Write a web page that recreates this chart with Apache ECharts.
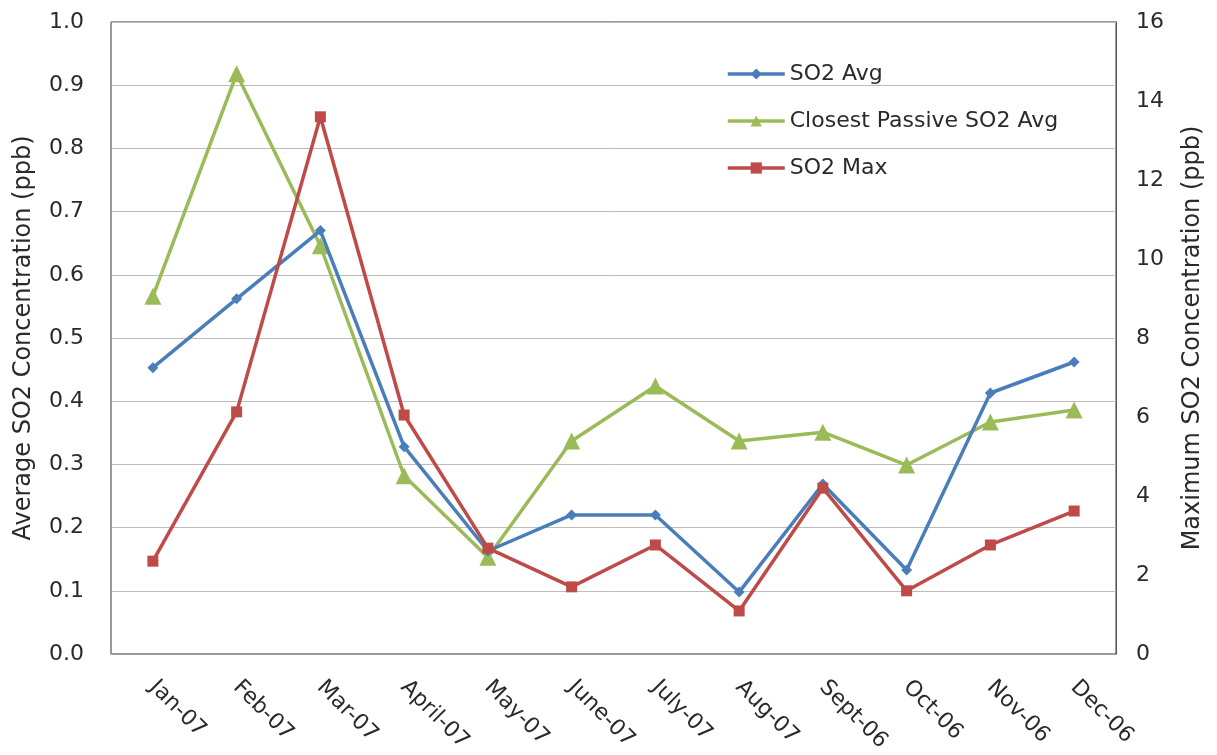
<!DOCTYPE html>
<html>
<head>
<meta charset="utf-8">
<script src="https://cdn.jsdelivr.net/npm/echarts@6/dist/echarts.min.js"></script>
<style>
html,body{margin:0;padding:0;background:#fff;}
#chart{width:1217px;height:755px;}
</style>
</head>
<body>
<div id="chart"></div>
<script>
// Monthly SO2 readings (ppb)
const months = ['Jan-07','Feb-07','Mar-07','April-07','May-07','June-07','July-07','Aug-07','Sept-06','Oct-06','Nov-06','Dec-06'];
const so2Avg = [0.453, 0.562, 0.670, 0.328, 0.163, 0.220, 0.220, 0.098, 0.269, 0.133, 0.413, 0.462];
const passiveAvg = [0.566, 0.918, 0.646, 0.282, 0.153, 0.337, 0.424, 0.337, 0.351, 0.299, 0.367, 0.386];
const so2Max = [2.35, 6.13, 13.6, 6.05, 2.68, 1.70, 2.76, 1.09, 4.20, 1.60, 2.76, 3.62];

const FONT = '"DejaVu Sans", sans-serif';
const TEXT = '#2a2a2a';
const chart = echarts.init(document.getElementById('chart'), null, {renderer: 'canvas'});

chart.setOption({
  animation: false,
  backgroundColor: '#ffffff',
  textStyle: {fontFamily: FONT, color: TEXT},
  grid: {left: 111, right: 101, top: 22, bottom: 101, show: true, borderColor: '#333', borderWidth: 1, backgroundColor: 'transparent'},
  legend: {
    orient: 'vertical', left: 721, top: 58, itemGap: 25,
    itemWidth: 57, itemHeight: 14,
    lineStyle: {width: 3.5},
    textStyle: {fontSize: 22, color: TEXT, fontFamily: FONT},
    data: ['SO2 Avg', 'Closest Passive SO2 Avg', 'SO2 Max']
  },
  xAxis: {
    type: 'category', data: months, boundaryGap: true,
    axisLine: {show: true, lineStyle: {color: '#999', width: 1}},
    axisTick: {show: false},
    axisLabel: {rotate: -45, fontSize: 22, color: TEXT, margin: 30, fontFamily: FONT, interval: 0}
  },
  yAxis: [
    {
      type: 'value', min: 0, max: 1, interval: 0.1, position: 'left',
      name: 'Average SO2 Concentration (ppb)', nameLocation: 'middle', nameGap: 75, nameRotate: 90,
      nameTextStyle: {fontSize: 24, color: TEXT, fontFamily: FONT},
      axisLine: {show: true, lineStyle: {color: '#999'}},
      axisTick: {show: false},
      axisLabel: {formatter: v => v.toFixed(1), fontSize: 22, color: TEXT, margin: 27, fontFamily: FONT},
      splitLine: {show: true, lineStyle: {color: '#bcbcbc', width: 1}}
    },
    {
      type: 'value', min: 0, max: 16, interval: 2, position: 'right',
      name: 'Maximum SO2 Concentration (ppb)', nameLocation: 'middle', nameGap: 65, nameRotate: 90,
      nameTextStyle: {fontSize: 24, color: TEXT, fontFamily: FONT},
      axisLine: {show: true, lineStyle: {color: '#555'}},
      axisTick: {show: false},
      axisLabel: {fontSize: 22, color: TEXT, margin: 20, fontFamily: FONT},
      splitLine: {show: false}
    }
  ],
  series: [
    {
      name: 'SO2 Avg', type: 'line', yAxisIndex: 0, data: so2Avg,
      symbol: 'diamond', symbolSize: 11,
      lineStyle: {color: '#4a7ebb', width: 3.5},
      itemStyle: {color: '#4a7ebb'}, z: 3
    },
    {
      name: 'Closest Passive SO2 Avg', type: 'line', yAxisIndex: 0, data: passiveAvg,
      symbol: 'triangle', symbolSize: 17,
      lineStyle: {color: '#9bbb59', width: 3.5},
      itemStyle: {color: '#9bbb59'}, z: 2
    },
    {
      name: 'SO2 Max', type: 'line', yAxisIndex: 1, data: so2Max,
      symbol: 'rect', symbolSize: 11,
      lineStyle: {color: '#be4b48', width: 3.5},
      itemStyle: {color: '#be4b48'}, z: 4
    }
  ]
});
</script>
</body>
</html>
